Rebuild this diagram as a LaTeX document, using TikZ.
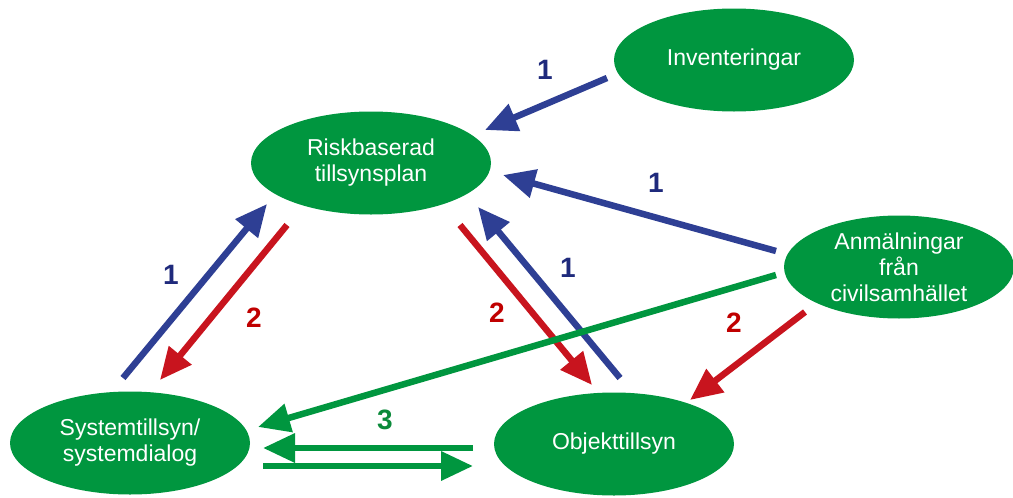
\documentclass[tikz,border=0pt]{standalone}
\usepackage{fontspec}
\setmainfont{Liberation Sans}
\usetikzlibrary{shapes.geometric,arrows.meta}
\definecolor{boxgreen}{HTML}{00963F}
\definecolor{arrblue}{HTML}{2E3F94}
\definecolor{arrred}{HTML}{C8141E}
\definecolor{numblue}{HTML}{1F2A7C}
\definecolor{numred}{HTML}{C00000}
\definecolor{numgreen}{HTML}{0B8A3A}
\tikzset{
  oval/.style={ellipse, fill=boxgreen, text=white, minimum width=240, minimum height=103,
    inner sep=0pt, align=center, font=\fontsize{23}{26}\selectfont},
  pil/.style={line width=6.5, -{Triangle[length=32,width=28]}},
  blapil/.style={pil, draw=arrblue},
  rodpil/.style={pil, draw=arrred},
  gronpil/.style={pil, draw=boxgreen},
  siffra/.style={font=\fontsize{28}{30}\selectfont\bfseries}
}
\begin{document}
\begin{tikzpicture}[x=1pt,y=-1pt]
        \useasboundingbox (0,0) rectangle (1013,498);
        % ovaler
        \node[oval] (inv) at (734,60) {Inventeringar};
        \node[oval] (risk) at (371,163) {Riskbaserad\\tillsynsplan};
        \node[oval, minimum width=230] (anm) at (899,267) {Anmälningar\\från\\civilsamhället};
        \node[oval] (sys) at (130,443) {Systemtillsyn/\\systemdialog};
        \node[oval] (obj) at (614,444) {Objekttillsyn};
        % pilar 1
        \draw[blapil] ([shift={(-127,18)}]inv.center) -- ([shift={(114,-33)}]risk.center);
        \draw[blapil] ([shift={(-123,-16)}]anm.center) -- ([shift={(132,12)}]risk.center);
        \draw[blapil] ([shift={(-7,-65)}]sys.center) -- ([shift={(-104,41)}]risk.center);
        \draw[blapil] ([shift={(6,-66)}]obj.center) -- ([shift={(107,44)}]risk.center);
        % pilar 2
        \draw[rodpil] ([shift={(-84,62)}]risk.center) -- ([shift={(30,-63)}]sys.center);
        \draw[rodpil] ([shift={(89,62)}]risk.center) -- ([shift={(-22,-59)}]obj.center);
        \draw[rodpil] ([shift={(-94,45)}]anm.center) -- ([shift={(76,-44)}]obj.center);
        % pilar 3
        \draw[gronpil] ([shift={(-123,8)}]anm.center) -- ([shift={(128,-16)}]sys.center);
        \draw[gronpil] ([shift={(-141,4)}]obj.center) -- ([shift={(133,5)}]sys.center);
        \draw[gronpil] ([shift={(133,23)}]sys.center) -- ([shift={(-141,22)}]obj.center);
        % siffror
        \node[siffra, text=numblue] (n1a) at (545,70) {1};
        \node[siffra, text=numblue] (n1b) at (656,183) {1};
        \node[siffra, text=numblue] (n1c) at (171,275) {1};
        \node[siffra, text=numblue] (n1d) at (568,268) {1};
        \node[siffra, text=numred] (n2a) at (254,318) {2};
        \node[siffra, text=numred] (n2b) at (497,313) {2};
        \node[siffra, text=numred] (n2c) at (734,323) {2};
        \node[siffra, text=numgreen] (n3) at (385,420) {3};
\end{tikzpicture}
\end{document}
